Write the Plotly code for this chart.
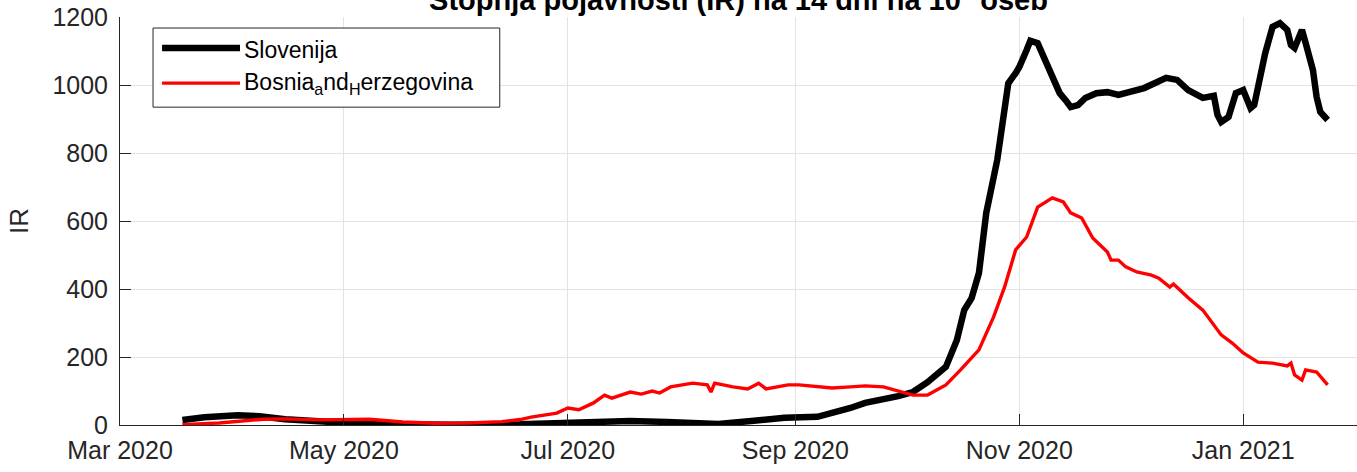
import plotly.graph_objects as go

# ---- data ----
slo_dates = ["2020-03-18", "2020-03-24", "2020-04-02", "2020-04-08", "2020-04-15", "2020-04-24",
             "2020-05-02", "2020-05-13", "2020-05-22", "2020-05-31", "2020-06-18", "2020-07-01",
             "2020-07-09", "2020-07-18", "2020-07-28", "2020-08-06", "2020-08-11", "2020-08-20",
             "2020-08-29", "2020-09-07", "2020-09-11", "2020-09-16", "2020-09-20", "2020-09-25",
             "2020-09-29", "2020-10-03", "2020-10-07", "2020-10-12", "2020-10-15", "2020-10-17",
             "2020-10-19", "2020-10-21", "2020-10-23", "2020-10-26", "2020-10-28", "2020-10-29",
             "2020-10-31", "2020-11-01", "2020-11-03", "2020-11-04", "2020-11-06", "2020-11-08",
             "2020-11-10", "2020-11-12", "2020-11-14", "2020-11-15", "2020-11-17", "2020-11-19",
             "2020-11-22", "2020-11-25", "2020-11-28", "2020-12-01", "2020-12-05", "2020-12-08",
             "2020-12-11", "2020-12-14", "2020-12-17", "2020-12-21", "2020-12-24", "2020-12-25",
             "2020-12-26", "2020-12-28", "2020-12-30", "2021-01-01", "2021-01-03", "2021-01-04",
             "2021-01-06", "2021-01-07", "2021-01-09", "2021-01-11", "2021-01-13", "2021-01-14",
             "2021-01-15", "2021-01-17", "2021-01-18", "2021-01-20", "2021-01-21", "2021-01-22",
             "2021-01-24"]
slo_ir = [15, 23, 29, 26, 17, 10,
          6, 2, 0, 1, 2, 6,
          12, 12, 9, 6, 3, 12,
          21, 24, 35, 50, 65, 74,
          85, 97, 126, 171, 250, 338,
          373, 447, 624, 780, 935, 1005,
          1035, 1053, 1103, 1130, 1123, 1074,
          1024, 976, 950, 935, 941, 962,
          976, 979, 971, 979, 991, 1006,
          1021, 1015, 985, 962, 968, 912,
          891, 906, 976, 985, 932, 941,
          1053, 1094, 1171, 1182, 1162, 1118,
          1109, 1162, 1124, 1044, 965, 921,
          897]

bih_dates = ["2020-03-18", "2020-03-28", "2020-04-09", "2020-04-15", "2020-04-24", "2020-05-03",
             "2020-05-08", "2020-05-17", "2020-05-26", "2020-06-04", "2020-06-13", "2020-06-18",
             "2020-06-21", "2020-06-28", "2020-07-01", "2020-07-04", "2020-07-08", "2020-07-11",
             "2020-07-13", "2020-07-18", "2020-07-21", "2020-07-24", "2020-07-26", "2020-07-29",
             "2020-08-04", "2020-08-08", "2020-08-09", "2020-08-10", "2020-08-15", "2020-08-19",
             "2020-08-22", "2020-08-24", "2020-08-30", "2020-09-02", "2020-09-07", "2020-09-11",
             "2020-09-16", "2020-09-20", "2020-09-25", "2020-09-28", "2020-10-03", "2020-10-07",
             "2020-10-12", "2020-10-16", "2020-10-21", "2020-10-25", "2020-10-28", "2020-10-31",
             "2020-11-03", "2020-11-06", "2020-11-10", "2020-11-13", "2020-11-15", "2020-11-18",
             "2020-11-21", "2020-11-25", "2020-11-26", "2020-11-28", "2020-11-30", "2020-12-03",
             "2020-12-07", "2020-12-09", "2020-12-12", "2020-12-13", "2020-12-17", "2020-12-21",
             "2020-12-23", "2020-12-26", "2020-12-29", "2021-01-01", "2021-01-05", "2021-01-09",
             "2021-01-13", "2021-01-14", "2021-01-15", "2021-01-17", "2021-01-18", "2021-01-21",
             "2021-01-24"]
bih_ir = [1, 6, 17, 18, 15, 17,
          17, 9, 5, 6, 10, 16,
          23, 35, 50, 45, 65, 88,
          79, 97, 91, 100, 94, 112,
          123, 118, 97, 123, 112, 106,
          123, 106, 118, 118, 112, 109,
          112, 115, 112, 103, 88, 88,
          118, 162, 221, 318, 406, 515,
          553, 641, 668, 656, 624, 609,
          550, 509, 485, 485, 465, 450,
          441, 432, 406, 415, 374, 338,
          309, 265, 241, 212, 185, 182,
          174, 182, 147, 132, 162, 156,
          118]

x_tick_vals = ["2020-03-01", "2020-05-01", "2020-07-01", "2020-09-01", "2020-11-01", "2021-01-01"]
x_tick_text = ["Mar 2020", "May 2020", "Jul 2020", "Sep 2020", "Nov 2020", "Jan 2021"]
y_tick_vals = [0, 200, 400, 600, 800, 1000, 1200]

series_names = ["Slovenija", "Bosnia<sub>a</sub>nd<sub>H</sub>erzegovina"]
series_colors = ["#000000", "#ff0000"]
series_widths = [6.5, 3.4]

FONT = "Liberation Sans, Arial, sans-serif"
AX = "#262626"
GRID = "#e3e3e3"

fig = go.Figure()
fig.add_trace(go.Scatter(x=slo_dates, y=slo_ir, mode="lines", name=series_names[0],
                         line=dict(color=series_colors[0], width=series_widths[0]), showlegend=False))
fig.add_trace(go.Scatter(x=bih_dates, y=bih_ir, mode="lines", name=series_names[1],
                         line=dict(color=series_colors[1], width=series_widths[1]), showlegend=False))

# custom legend box (MATLAB-style long line samples)
fig.add_shape(type="rect", xref="paper", yref="paper", x0=0.0267, x1=0.307, y0=0.779, y1=0.973,
              line=dict(color=AX, width=1), fillcolor="white", layer="above")
legend_line_y = [0.924, 0.838]
legend_text_y = [0.920, 0.838]
for name, col, w, ly, ty in zip(series_names, series_colors, series_widths, legend_line_y, legend_text_y):
    fig.add_shape(type="line", xref="paper", yref="paper", x0=0.034, x1=0.097, y0=ly, y1=ly,
                  line=dict(color=col, width=w), layer="above")
    fig.add_annotation(xref="paper", yref="paper", x=0.099, y=ty, text=name, showarrow=False,
                       xanchor="left", yanchor="middle", font=dict(family=FONT, size=23, color="#000000"))

fig.update_layout(
    width=1357, height=472,
    margin=dict(l=120, r=0, t=17, b=47, autoexpand=False),
    paper_bgcolor="white", plot_bgcolor="white",
    font=dict(family=FONT, size=24, color=AX),
    title=dict(text="<b>Stopnja pojavnosti (IR) na 14 dni na 10<sup>5</sup> oseb</b>",
               x=0.5, xref="paper", xanchor="center", y=1.0, yanchor="middle", yref="container",
               font=dict(family=FONT, size=29, color="#000000")),
    showlegend=False,
)
fig.update_xaxes(range=["2020-03-01", "2021-02-01"], tickvals=x_tick_vals, ticktext=x_tick_text,
                 showline=True, linecolor=AX, linewidth=1, ticks="inside", ticklen=11,
                 tickcolor=AX, showgrid=True, gridcolor=GRID, gridwidth=1, zeroline=False,
                 automargin=False, ticklabelstandoff=3,
                 tickfont=dict(family=FONT, size=25, color=AX))
fig.update_yaxes(range=[0, 1200], tickvals=y_tick_vals,
                 showline=True, linecolor=AX, linewidth=1, ticks="inside", ticklen=11,
                 tickcolor=AX, showgrid=True, gridcolor=GRID, gridwidth=1, zeroline=False,
                 automargin=False, ticklabelstandoff=6,
                 tickfont=dict(family=FONT, size=25, color=AX),
                 title=dict(text="IR", standoff=16, font=dict(family=FONT, size=26, color=AX)))

fig.write_html("out.html", config={"displayModeBar": False},
               post_script="document.body.style.margin='0px';document.body.style.overflow='hidden';")
